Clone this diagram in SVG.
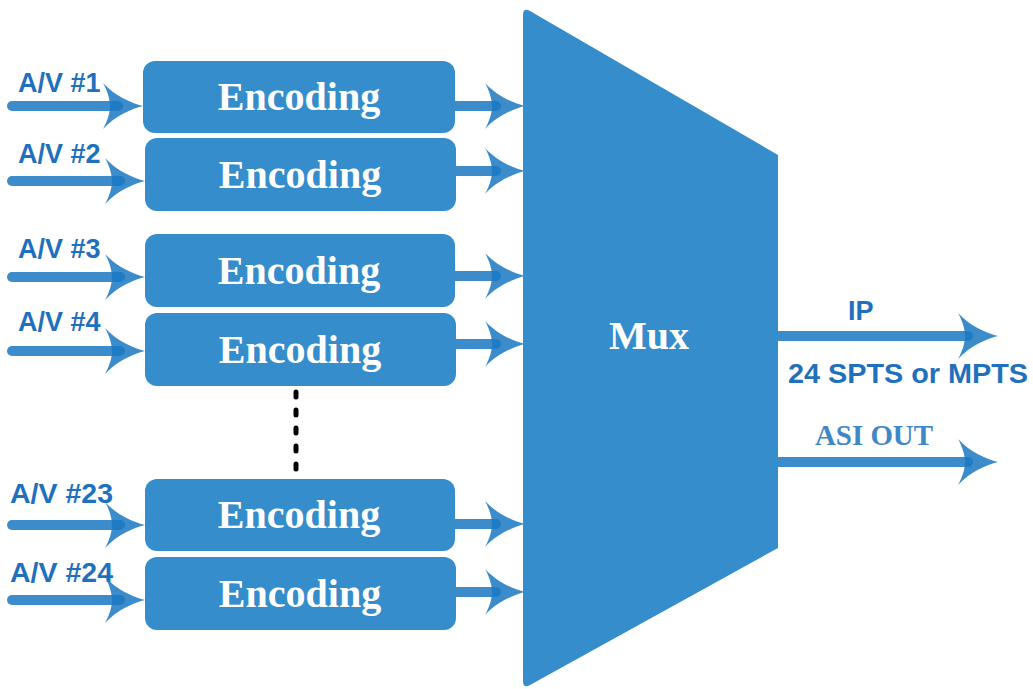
<svg xmlns="http://www.w3.org/2000/svg" xmlns:xlink="http://www.w3.org/1999/xlink" width="1033" height="689" viewBox="0 0 1033 689">
  <style>
    .box { fill: #368dcc; }
    .enc { font-family: "Liberation Serif", "Times New Roman", serif; font-weight: bold; font-size: 40px; fill: #ffffff; text-anchor: middle; }
    .lbl { font-family: "Liberation Sans", Arial, sans-serif; font-weight: bold; font-size: 27px; fill: #1f70bd; }
    .ln { stroke: #1a78c2; stroke-opacity: 0.85; stroke-width: 10; stroke-linecap: round; fill: none; }
    .hd { fill: #1a78c2; fill-opacity: 0.85; }
    .dots { stroke: #000000; stroke-width: 5; stroke-linecap: round; stroke-dasharray: 5 13; fill: none; }
  </style>
  <defs>
    <path id="head" d="M0,0 C-12,-3 -28,-10 -40,-23 C-35,-14 -33,-6 -33,0 C-33,6 -35,14 -40,23 C-28,10 -12,3 0,0 Z"/>
  </defs>
  <rect width="1033" height="689" fill="#ffffff"/>

  <g id="connectors">
    <!-- inputs -->
    <line class="ln" x1="12" y1="106" x2="118" y2="106"/>
    <use xlink:href="#head" class="hd" transform="translate(143,106)"/>
    <line class="ln" x1="12" y1="181" x2="120" y2="181"/>
    <use xlink:href="#head" class="hd" transform="translate(145,181)"/>
    <line class="ln" x1="12" y1="277" x2="120" y2="277"/>
    <use xlink:href="#head" class="hd" transform="translate(145,277)"/>
    <line class="ln" x1="12" y1="351" x2="120" y2="351"/>
    <use xlink:href="#head" class="hd" transform="translate(145,351)"/>
    <line class="ln" x1="12" y1="525" x2="120" y2="525"/>
    <use xlink:href="#head" class="hd" transform="translate(145,525)"/>
    <line class="ln" x1="12" y1="600" x2="120" y2="600"/>
    <use xlink:href="#head" class="hd" transform="translate(145,600)"/>
    <!-- outputs to mux -->
    <line class="ln" x1="452" y1="106" x2="496" y2="106"/>
    <use xlink:href="#head" class="hd" transform="translate(525,106)"/>
    <line class="ln" x1="453" y1="171" x2="496" y2="171"/>
    <use xlink:href="#head" class="hd" transform="translate(525,171)"/>
    <line class="ln" x1="452" y1="276" x2="496" y2="276"/>
    <use xlink:href="#head" class="hd" transform="translate(525,276)"/>
    <line class="ln" x1="453" y1="344" x2="496" y2="344"/>
    <use xlink:href="#head" class="hd" transform="translate(525,344)"/>
    <line class="ln" x1="452" y1="524" x2="496" y2="524"/>
    <use xlink:href="#head" class="hd" transform="translate(525,524)"/>
    <line class="ln" x1="453" y1="592" x2="496" y2="592"/>
    <use xlink:href="#head" class="hd" transform="translate(525,592)"/>
    <!-- mux outputs -->
    <line class="ln" x1="775" y1="336" x2="968" y2="336"/>
    <use xlink:href="#head" class="hd" transform="translate(998,336)"/>
    <line class="ln" x1="775" y1="462" x2="968" y2="462"/>
    <use xlink:href="#head" class="hd" transform="translate(998,462)"/>
    <!-- continuation dots -->
    <line class="dots" x1="296" y1="392" x2="296" y2="472"/>
  </g>

  <g id="enc1"><rect class="box" x="143" y="61" width="312" height="72" rx="12"/><text class="enc" x="299" y="110">Encoding</text></g>
  <g id="enc2"><rect class="box" x="145" y="138" width="311" height="73" rx="12"/><text class="enc" x="300" y="188">Encoding</text></g>
  <g id="enc3"><rect class="box" x="145" y="234" width="310" height="73" rx="12"/><text class="enc" x="299" y="284">Encoding</text></g>
  <g id="enc4"><rect class="box" x="145" y="313" width="311" height="73" rx="12"/><text class="enc" x="300" y="363">Encoding</text></g>
  <g id="enc23"><rect class="box" x="145" y="479" width="310" height="72" rx="12"/><text class="enc" x="299" y="528">Encoding</text></g>
  <g id="enc24"><rect class="box" x="145" y="557" width="311" height="73" rx="12"/><text class="enc" x="300" y="607">Encoding</text></g>

  <g id="mux">
    <path class="box" d="M523,15 Q523,7 530,11 L778,155 L778,548 L530,685 Q523,689 523,681 Z"/>
    <text class="enc" x="649" y="349">Mux</text>
  </g>

  <g id="labels">
    <text class="lbl" x="18" y="92">A/V #1</text>
    <text class="lbl" x="18" y="163">A/V #2</text>
    <text class="lbl" x="18" y="258">A/V #3</text>
    <text class="lbl" x="18" y="331">A/V #4</text>
    <text class="lbl" x="10" y="503" textLength="103" lengthAdjust="spacingAndGlyphs">A/V #23</text>
    <text class="lbl" x="10" y="582" textLength="103" lengthAdjust="spacingAndGlyphs">A/V #24</text>
    <text class="lbl" x="848" y="320">IP</text>
    <text class="lbl" x="788" y="383" textLength="240" lengthAdjust="spacingAndGlyphs">24 SPTS or MPTS</text>
    <text x="815" y="445" font-family="'Liberation Serif', 'Times New Roman', serif" font-weight="bold" font-size="29" fill="#3f88c8" textLength="118" lengthAdjust="spacingAndGlyphs">ASI OUT</text>
  </g>
</svg>
